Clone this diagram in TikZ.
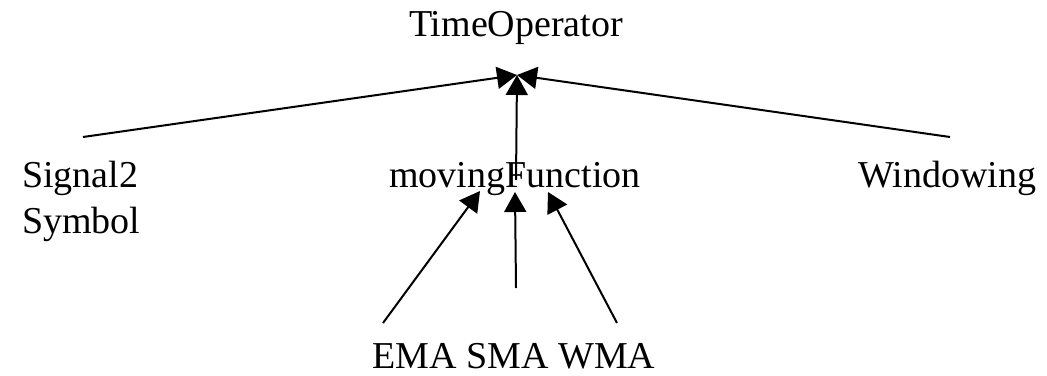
\documentclass[tikz,border=0pt]{standalone}
\usepackage{fontspec}
\setmainfont{Liberation Serif}
\usetikzlibrary{arrows.meta}

\begin{document}
\begin{tikzpicture}[x=1pt,y=-1pt,
    lbl/.style={inner sep=0pt,anchor=base,font=\fontsize{38}{45.6}\selectfont},
    post/.style={-{Triangle[length=20pt,width=22pt]},line width=2pt},
    pre/.style={line width=2pt}
    ]
\useasboundingbox (0,0) rectangle (1047,375);

\node[lbl] (timeop) at (516,36) {TimeOperator};
\node[lbl,anchor=base west,align=left] (signal) at (22,233) {Signal2\\Symbol};
\node[lbl] (moving) at (515,187) {movingFunction};
\node[lbl,anchor=base west] (window) at (858,187) {Windowing};
\node[lbl] (averages) at (514,368) {EMA SMA WMA};

% where the edges meet
\coordinate (hub) at (517,75);
\coordinate (sigTop) at (83,137);
\coordinate (winTop) at (950,137);
\coordinate (movTop) at (516,180);
\coordinate (emaTip) at (480,191);
\coordinate (smaTip) at (515,192);
\coordinate (wmaTip) at (548,192);
\coordinate (emaEnd) at (383,323);
\coordinate (smaEnd) at (516,288);
\coordinate (wmaEnd) at (617,323);

\draw[post] (sigTop) -- (hub);
\draw[post] (winTop) -- (hub);
\draw[post] (movTop) -- (hub);

\draw[post] (emaEnd) -- (emaTip);
\draw[post] (smaEnd) -- (smaTip);
\draw[post] (wmaEnd) -- (wmaTip);

\end{tikzpicture}
\end{document}
